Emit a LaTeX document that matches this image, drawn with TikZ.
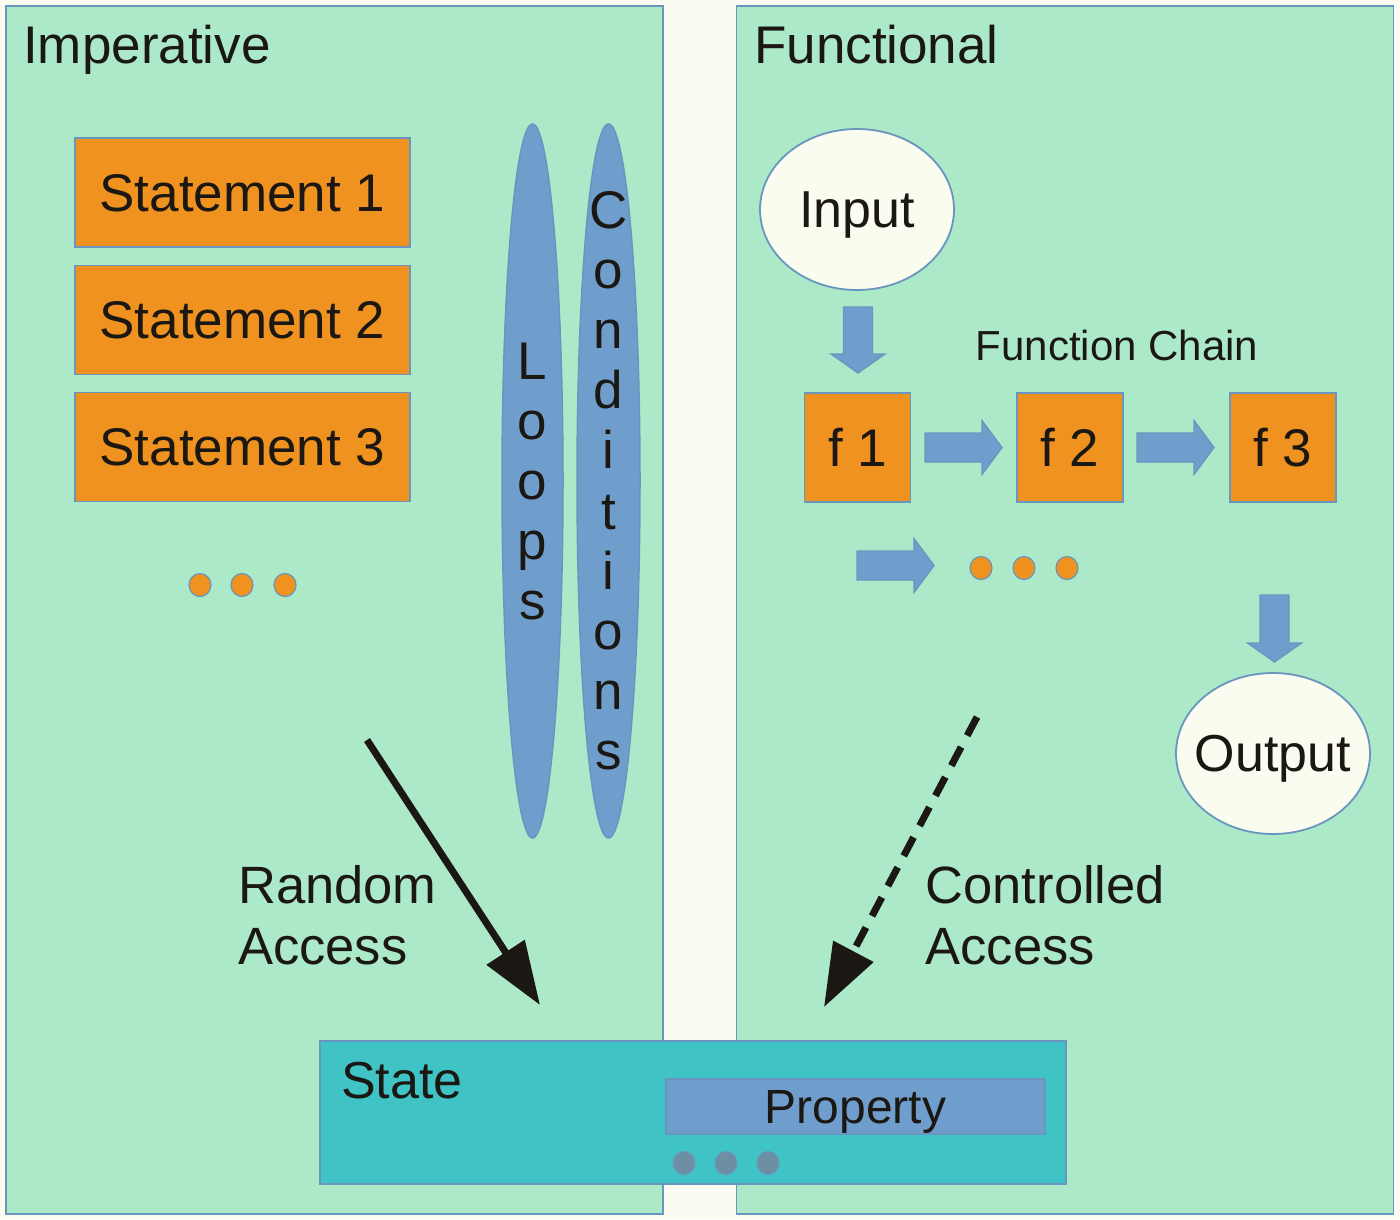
\documentclass[tikz,border=0pt]{standalone}
\usepackage{fontspec}
\setmainfont{Liberation Sans}
\usetikzlibrary{shapes.geometric,arrows.meta}
\definecolor{bgc}{HTML}{FBFBF1}
\definecolor{panelc}{HTML}{ACE9C9}
\definecolor{edgec}{HTML}{6A95BF}
\definecolor{orangec}{HTML}{F0921F}
\definecolor{bluec}{HTML}{709ECC}
\definecolor{tealc}{HTML}{3FC3C4}
\definecolor{creamc}{HTML}{FBFCF0}
\definecolor{dotgrey}{HTML}{6E8FA3}
\definecolor{inkc}{HTML}{1B1712}
\newcommand\harr[3]{\filldraw[blockarr] (#1,#3-14.5) -- (#2-20,#3-14.5) -- (#2-20,#3-27) -- (#2,#3) -- (#2-20,#3+27) -- (#2-20,#3+14.5) -- (#1,#3+14.5) -- cycle;}
\newcommand\varr[3]{\filldraw[blockarr] (#1-14.5,#2) -- (#1-14.5,#3-19) -- (#1-27,#3-19) -- (#1,#3) -- (#1+27,#3-19) -- (#1+14.5,#3-19) -- (#1+14.5,#2) -- cycle;}
\begin{document}
\begin{tikzpicture}[x=1pt,y=-1pt,
  every node/.style={text=inkc},
  panel/.style={draw=edgec, line width=1.8pt, fill=panelc, rectangle, inner sep=0, anchor=north west},
  stmt/.style={draw=edgec, line width=1.5pt, fill=orangec, rectangle, inner sep=0, minimum width=335, minimum height=109, font=\fontsize{53}{60}\selectfont, text depth=0pt},
  fbox/.style={draw=edgec, line width=1.5pt, fill=orangec, rectangle, inner sep=0, minimum width=106, minimum height=109, font=\fontsize{53}{60}\selectfont, text depth=0pt},
  oval/.style={draw=edgec, line width=1.8pt, fill=creamc, ellipse, inner sep=0, minimum width=194, minimum height=161},
  ovaltext/.style={inner sep=0, font=\fontsize{52}{60}\selectfont, text depth=0pt},
  tall/.style={draw=edgec, line width=1.5pt, fill=bluec, ellipse, inner sep=0, minimum height=714},
  letter/.style={anchor=base, inner sep=0, font=\fontsize{53}{60}\selectfont},
  odot/.style={draw=edgec, line width=1.2pt, fill=orangec, ellipse, inner sep=0, minimum width=22, minimum height=23},
  gdot/.style={draw=edgec, line width=1pt, fill=dotgrey, ellipse, inner sep=0, minimum width=22, minimum height=23},
  blockarr/.style={fill=bluec, draw=edgec, line width=1.3pt, line join=miter},
  label/.style={inner sep=0, font=\fontsize{52.5}{61}\selectfont, align=left, anchor=south west},
  title/.style={inner sep=0, anchor=base west, font=\fontsize{53}{60}\selectfont},
  bigarrow/.style={draw=inkc, line width=7pt, -{Triangle[length=63pt,width=44pt]}}
]
\useasboundingbox (0,0) rectangle (1400,1219);
\fill[bgc] (0,0) rectangle (1400,1219);

% panels
\node[panel, minimum width=657, minimum height=1208] (imp) at (5,5) {};
\node[panel, minimum width=657, minimum height=1208] (fun) at (735.5,5) {};
\node[title] (impt) at (23,63) {Imperative};
\node[title] (funt) at (754,63) {Functional};

% imperative side
\node[stmt] (s1) at (242.5,192.5) {Statement 1};
\node[stmt] (s2) at (242.5,320) {Statement 2};
\node[stmt] (s3) at (242.5,447) {Statement 3};
\node[odot] (d1) at (200,585) {};
\node[odot] (d2) at (242,585) {};
\node[odot] (d3) at (285,585) {};

\node[tall, minimum width=61] (loops) at (532.5,481) {};
\node[tall, minimum width=63] (conds) at (608.5,481) {};
\foreach \c [count=\i] in {L,o,o,p,s}
  \node[letter] (lp\i) at (532.5,{379+60*(\i-1)}) {\c};
\foreach \c [count=\i] in {C,o,n,d,i,t,i,o,n,s}
  \node[letter] (cd\i) at (608.5,{228+60.2*(\i-1)}) {\c};

\node[label] (rand) at (238,965) {Random\\Access};
\coordinate (ra1) at (367,740);
\coordinate (ra2) at (540,1005);
\draw[bigarrow] (ra1) -- (ra2);

% functional side
\node[oval] (in) at (857,209.5) {};
\node[ovaltext] (intext) at (in.center) {Input};
\node[inner sep=0, anchor=base west, font=\fontsize{42}{50}\selectfont] (fc) at (975.5,360) {Function Chain};
\node[fbox] (f1) at (857.5,447.5) {f 1};
\node[fbox] (f2) at (1070,447.5) {f 2};
\node[fbox] (f3) at (1283,447.5) {f 3};
\varr{858}{307}{373}
\harr{925}{1002}{447.5}
\harr{1137}{1214}{447.5}
\harr{857}{934}{565.5}
\node[odot] (e1) at (981,568) {};
\node[odot] (e2) at (1024,568) {};
\node[odot] (e3) at (1067,568) {};
\varr{1274.5}{595}{662}
\node[oval] (out) at (1273,753.5) {};
\node[ovaltext] (outtext) at (out.center) {Output};

\node[label] (ctrl) at (925.5,965) {Controlled\\Access};
\coordinate (ca1) at (977,717);
\coordinate (ca2) at (824,1007);
\draw[bigarrow, dash pattern=on 21pt off 13pt] (ca1) -- (ca2);

% state
\node[draw=edgec, line width=1.8pt, fill=tealc, rectangle, inner sep=0, minimum width=746, minimum height=143] (state) at (693,1112.5) {};
\node[title, font=\fontsize{52}{60}\selectfont] (statet) at (341,1098) {State};
\node[draw=edgec, line width=1.5pt, fill=bluec, rectangle, inner sep=0, minimum width=379, minimum height=55, font=\fontsize{48}{56}\selectfont, text depth=0pt] (prop) at (855.5,1106.5) {Property};
\node[gdot] (g1) at (684,1163) {};
\node[gdot] (g2) at (726,1163) {};
\node[gdot] (g3) at (768,1163) {};
\end{tikzpicture}
\end{document}
